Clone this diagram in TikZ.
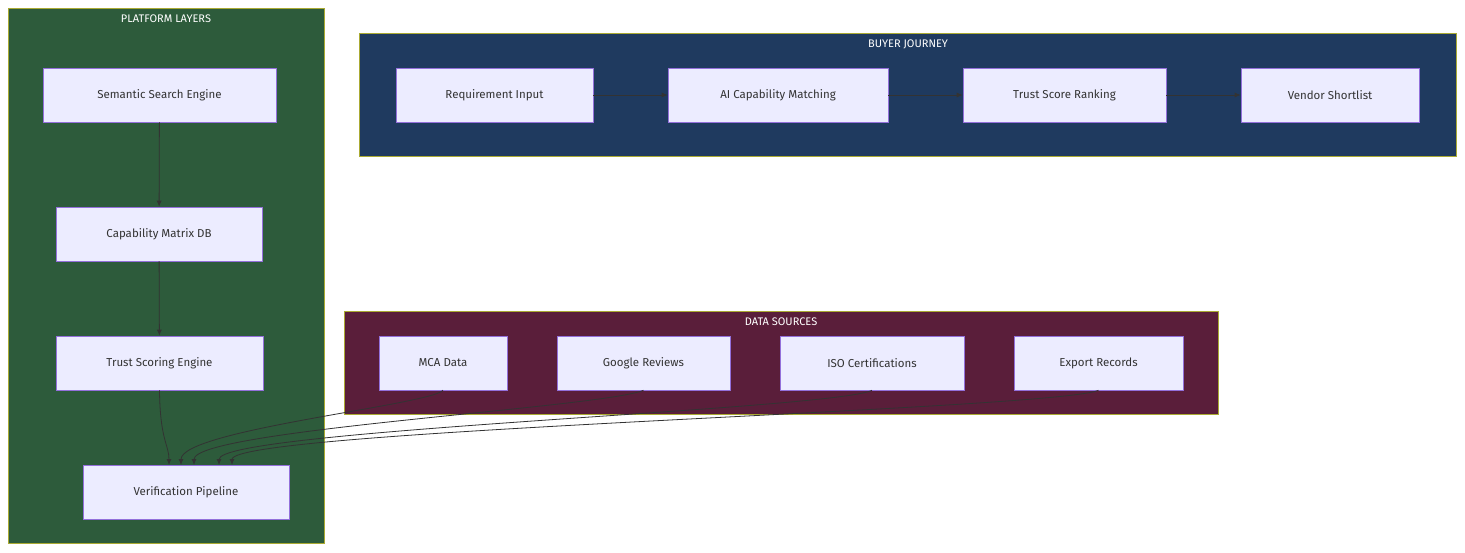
\documentclass[tikz,border=0pt]{standalone}
\usepackage{fontspec}
\setmainfont{Fira Sans}
\usetikzlibrary{arrows.meta}
\definecolor{nfill}{HTML}{ECECFF}
\definecolor{nline}{HTML}{9370DB}
\definecolor{ntext}{HTML}{333333}
\definecolor{green}{HTML}{2D5B3B}
\definecolor{navy}{HTML}{1F3A5F}
\definecolor{maroon}{HTML}{5A1E3A}
\definecolor{gb}{HTML}{AAAA33}
\begin{document}
\begin{tikzpicture}[x=1pt,y=-1pt,
  grp/.style={draw=gb,line width=0.6pt},
  gt/.style={text=white,font=\fontsize{11}{13}\selectfont},
  n/.style={draw=nline,fill=nfill,text=ntext,font=\fontsize{11.5}{14}\selectfont,line width=0.6pt},
  e/.style={draw=ntext,line width=0.8pt,-{Latex[length=6pt,width=5pt]}}]
\useasboundingbox (0,0) rectangle (1465,552);
\fill[white] (0,0) rectangle (1465,552);
\draw[grp,fill=green] (8,8) rectangle (324,543);
\node[gt] (t1) at (166,19) {PLATFORM LAYERS};
\draw[grp,fill=navy] (359,33) rectangle (1456,156);
\node[gt] (t2) at (908,44) {BUYER JOURNEY};
\draw[grp,fill=maroon] (344,311) rectangle (1218,414);
\node[gt] (t3) at (781,322) {DATA SOURCES};
\newcommand{\nd}[6]{\node[n,minimum width=#3-#2,minimum height=54,inner sep=0] (#1) at ({(#2+#3)/2},{#4+27}) {#5};}
\nd{sse}{43}{276}{68}{Semantic Search Engine}{}
\nd{cmd}{56}{262}{207}{Capability Matrix DB}{}
\nd{tse}{56}{263}{336}{Trust Scoring Engine}{}
\nd{vp}{83}{289}{465}{Verification Pipeline}{}
\nd{ri}{396}{593}{68}{Requirement Input}{}
\nd{ai}{668}{888}{68}{AI Capability Matching}{}
\nd{ts}{963}{1166}{68}{Trust Score Ranking}{}
\nd{vs}{1241}{1419}{68}{Vendor Shortlist}{}
\nd{mca}{379}{507}{336}{MCA Data}{}
\nd{gr}{557}{730}{336}{Google Reviews}{}
\nd{iso}{780}{964}{336}{ISO Certifications}{}
\nd{er}{1014}{1183}{336}{Export Records}{}
\draw[e] (sse) -- (cmd);
\draw[e] (cmd) -- (tse);
\draw[e] (ri) -- (ai);
\draw[e] (ai) -- (ts);
\draw[e] (ts) -- (vs);
\coordinate (v1) at (169,465);
\coordinate (v2) at (181,465);
\coordinate (v3) at (194,465);
\coordinate (v4) at (219,465);
\coordinate (v5) at (232,465);
\draw[e] (tse.south) .. controls (160,440) and (169,445) .. (v1);
\draw[e] (mca.south) .. controls (430,405) and (181,430) .. (v2);
\draw[e] (gr.south) .. controls (600,408) and (194,430) .. (v3);
\draw[e] (iso.south) .. controls (830,410) and (219,430) .. (v4);
\draw[e] (er.south) .. controls (1050,410) and (232,430) .. (v5);
\end{tikzpicture}
\end{document}
